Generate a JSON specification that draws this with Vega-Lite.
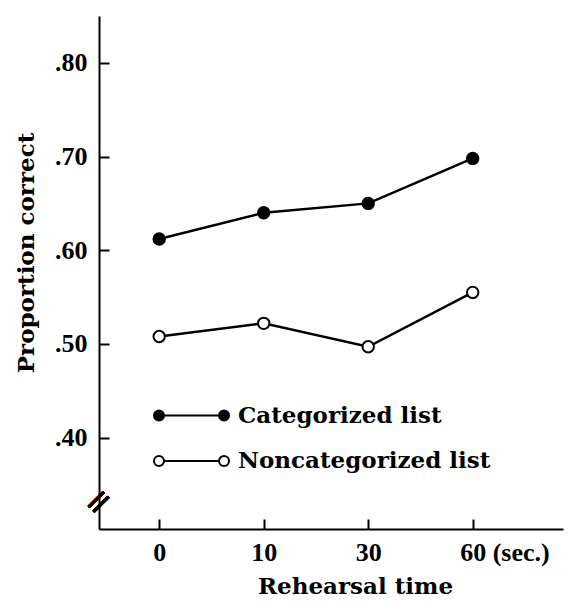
{
  "$schema": "https://vega.github.io/schema/vega-lite/v6.json",
  "width": 464,
  "height": 513,
  "autosize": {"type": "none"},
  "padding": {"left": 99, "top": 16, "right": 11, "bottom": 79},
  "background": "white",
  "config": {
    "view": {"stroke": null},
    "font": "DejaVu Serif",
    "axis": {
      "grid": false,
      "domainColor": "black",
      "domainWidth": 2,
      "tickColor": "black",
      "tickWidth": 2,
      "tickSize": -10,
      "labelColor": "black",
      "titleColor": "black",
      "labelFont": "Liberation Serif",
      "labelFontWeight": "bold",
      "labelFontSize": 26,
      "titleFont": "DejaVu Serif",
      "titleFontWeight": "bold",
      "titleFontSize": 23
    }
  },
  "data": {
    "values": [
      {"time": "0", "list": "Categorized list", "p": 0.612},
      {"time": "10", "list": "Categorized list", "p": 0.640},
      {"time": "30", "list": "Categorized list", "p": 0.650},
      {"time": "60", "list": "Categorized list", "p": 0.698},
      {"time": "0", "list": "Noncategorized list", "p": 0.508},
      {"time": "10", "list": "Noncategorized list", "p": 0.522},
      {"time": "30", "list": "Noncategorized list", "p": 0.497},
      {"time": "60", "list": "Noncategorized list", "p": 0.555}
    ]
  },
  "encoding": {
    "x": {
      "field": "time",
      "type": "ordinal",
      "sort": ["0", "10", "30", "60"],
      "scale": {"type": "point", "domain": ["0", "10", "30", "60"], "padding": 0.72, "align": 0.4},
      "axis": {
        "title": "Rehearsal time",
        "labelAngle": 0,
        "labelExpr": "datum.value == '60' ? '60 (sec.)' : datum.value",
        "labelAlign": {"condition": {"test": "datum.value == '60'", "value": "left"}, "value": "center"},
        "labelOffset": {"condition": {"test": "datum.value == '60'", "value": -13}, "value": 0},
        "labelPadding": 20,
        "titleX": 256,
        "titleY": 64,
        "titleBaseline": "alphabetic",
        "titleAlign": "center"
      }
    },
    "y": {
      "field": "p",
      "type": "quantitative",
      "scale": {"domain": [0.3025, 0.85], "nice": false, "zero": false},
      "axis": {
        "title": "Proportion correct",
        "values": [0.4, 0.5, 0.6, 0.7, 0.8],
        "labelExpr": "'.' + substring(format(datum.value, '.2f'), 2)",
        "labelPadding": 22,
        "titleX": -66,
        "titleY": 236.5,
        "titleAngle": -90,
        "titleBaseline": "alphabetic",
        "titleAlign": "center"
      }
    }
  },
  "layer": [
    {
      "mark": {"type": "line", "color": "black", "strokeWidth": 2.5},
      "encoding": {"detail": {"field": "list"}}
    },
    {
      "mark": {"type": "circle", "size": 130, "stroke": "black", "strokeWidth": 2, "opacity": 1},
      "encoding": {
        "fill": {
          "field": "list",
          "type": "nominal",
          "scale": {"domain": ["Categorized list", "Noncategorized list"], "range": ["black", "white"]},
          "legend": {
            "orient": "none",
            "legendX": 81,
            "legendY": 388,
            "title": null,
            "padding": 0,
            "symbolType": "M -7.5 0 A 1 1 0 1 0 -5.5 0 A 1 1 0 1 0 -7.5 0 Z M -5.5 0 L 5.5 0 M 5.5 0 A 1 1 0 1 0 7.5 0 A 1 1 0 1 0 5.5 0 Z",
            "symbolSize": 100,
            "symbolStrokeColor": "black",
            "symbolStrokeWidth": 2,
            "symbolOpacity": 1,
            "labelFont": "DejaVu Serif",
            "labelFontWeight": "bold",
            "labelFontSize": 23,
            "labelColor": "black",
            "labelLimit": 0,
            "labelOffset": 35,
            "rowPadding": 21.5
          }
        }
      }
    },
    {
      "mark": {"type": "text", "text": "=", "angle": -45, "fontSize": 34, "font": "DejaVu Sans", "align": "center", "baseline": "middle", "color": "black"},
      "encoding": {"x": {"value": 0}, "y": {"datum": 0.331}}
    }
  ]
}
